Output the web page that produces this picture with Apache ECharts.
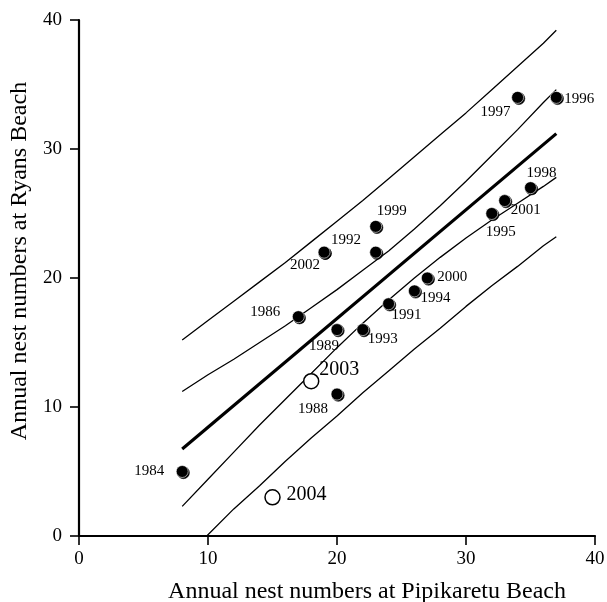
<!DOCTYPE html>
<html>
<head>
<meta charset="utf-8">
<script src="https://cdn.jsdelivr.net/npm/echarts@6/dist/echarts.min.js"></script>
<style>
html,body{margin:0;padding:0;background:#fff;}
#chart{width:607px;height:602px;}
</style>
</head>
<body>
<div id="chart"></div>
<script>
// ---- data ----
const filledYears = ['1984','1986','1988','1989','1991','1992','1993','1994','1995','1996','1997','1998','1999','2000','2001','2002',''];
const filledX = [8, 17, 20, 20, 24, 19, 22, 26, 32, 37, 34, 35, 23, 27, 33, 19, 23];
const filledY = [5, 17, 11, 16, 18, 22, 16, 19, 25, 34, 34, 27, 24, 20, 26, 22, 22];

const openYears = ['2003', '2004'];
const openX = [18, 15];
const openY = [12, 3];

const fitX = [8, 37];
const fitY = [6.74, 31.19];

const bandX = [8, 10, 12, 14, 16, 18, 20, 22, 24, 26, 28, 30, 32, 34, 36, 37];
const upperInner = [11.2, 12.5, 13.7, 15.0, 16.3, 17.7, 19.1, 20.6, 22.1, 23.8, 25.6, 27.5, 29.5, 31.5, 33.6, 34.6];
const lowerInner = [2.3, 4.4, 6.5, 8.6, 10.6, 12.6, 14.6, 16.5, 18.3, 20.0, 21.6, 23.1, 24.5, 25.8, 27.1, 27.8];
const upperOuter = [15.2, 16.7, 18.2, 19.7, 21.2, 22.8, 24.4, 26.0, 27.7, 29.4, 31.1, 32.8, 34.6, 36.4, 38.2, 39.2];
const lowerOuterX = [9.9, 12, 14, 16, 18, 20, 22, 24, 26, 28, 30, 32, 34, 36, 37];
const lowerOuter = [0, 2.1, 3.9, 5.8, 7.6, 9.3, 11.1, 12.8, 14.5, 16.1, 17.8, 19.4, 20.9, 22.5, 23.2];

const xTicks = [0, 10, 20, 30, 40];
const yTicks = [0, 10, 20, 30, 40];

// ---- presentation ----
const FONT = 'Liberation Serif, Times New Roman, serif';
const labelOffsets = {
  '1984': [-33, 0], '1986': [-33, -5], '1988': [-24, 15], '1989': [-13, 16],
  '1991': [18, 11], '1992': [22, -12], '1993': [20, 9], '1994': [21, 7],
  '1995': [9, 19], '1996': [23, 2], '1997': [-22, 15], '1998': [11, -15],
  '1999': [16, -15], '2000': [25, -1], '2001': [21, 9], '2002': [-19, 13],
  '2003': [28, -11], '2004': [34, -3]
};

function pairs(xs, ys) { return xs.map((x, i) => [x, ys[i]]); }

function lineSeries(xs, ys, w) {
  return {
    type: 'line', data: pairs(xs, ys), symbol: 'none', smooth: false,
    lineStyle: { color: '#000', width: w }, silent: true, z: 2
  };
}

const filledData = filledX.map((x, i) => ({
  value: [x, filledY[i], filledYears[i]],
  label: { offset: labelOffsets[filledYears[i]] || [0, 0] }
}));
const openData = openX.map((x, i) => ({
  value: [x, openY[i], openYears[i]],
  label: { offset: labelOffsets[openYears[i]] || [0, 0] }
}));

const chart = echarts.init(document.getElementById('chart'), null, { renderer: 'canvas' });
chart.setOption({
  backgroundColor: '#fff',
  animation: false,
  grid: { left: 79, right: 12, top: 20, bottom: 66, containLabel: false, outerBoundsMode: 'none' },
  xAxis: {
    type: 'value', min: xTicks[0], max: xTicks[xTicks.length - 1], interval: 10,
    name: 'Annual nest numbers at Pipikaretu Beach',
    nameLocation: 'middle', nameGap: 44,
    nameTextStyle: { fontFamily: FONT, fontSize: 24, color: '#000', padding: [0, 0, 0, 60] },
    axisLine: { show: true, lineStyle: { color: '#000', width: 2.2 } },
    axisTick: { show: true, inside: false, length: 9, lineStyle: { color: '#000', width: 1.6 } },
    axisLabel: { fontFamily: FONT, fontSize: 19, color: '#000', margin: 14 },
    splitLine: { show: false }
  },
  yAxis: {
    type: 'value', min: yTicks[0], max: yTicks[yTicks.length - 1], interval: 10,
    name: 'Annual nest numbers at Ryans Beach',
    nameLocation: 'middle', nameGap: 46, nameRotate: 90,
    nameTextStyle: { fontFamily: FONT, fontSize: 24, color: '#000', padding: [0, 0, 0, 34] },
    axisLine: { show: true, onZero: false, lineStyle: { color: '#000', width: 2.2 } },
    axisTick: { show: true, inside: false, length: 9, lineStyle: { color: '#000', width: 1.6 } },
    axisLabel: { fontFamily: FONT, fontSize: 19, color: '#000', margin: 17 },
    splitLine: { show: false }
  },
  series: [
    lineSeries(bandX, upperOuter, 1.3),
    lineSeries(bandX, upperInner, 1.3),
    lineSeries(fitX, fitY, 3.2),
    lineSeries(bandX, lowerInner, 1.3),
    lineSeries(lowerOuterX, lowerOuter, 1.3),
    {
      type: 'scatter', data: filledData, symbol: 'circle', symbolSize: 12, z: 5,
      itemStyle: { color: '#000', borderColor: '#fff', borderWidth: 0.6,
        shadowColor: '#000', shadowBlur: 0, shadowOffsetX: 1.2, shadowOffsetY: 1.2, opacity: 1 },
      label: { show: true, position: 'inside', formatter: p => p.value[2],
        fontFamily: FONT, fontSize: 15, color: '#000' }
    },
    {
      type: 'scatter', data: openData, symbol: 'circle', symbolSize: 15, z: 5,
      itemStyle: { color: '#fff', borderColor: '#000', borderWidth: 1.5, opacity: 1 },
      label: { show: true, position: 'inside', formatter: p => p.value[2],
        fontFamily: FONT, fontSize: 20, color: '#000' }
    }
  ]
});
</script>
</body>
</html>
